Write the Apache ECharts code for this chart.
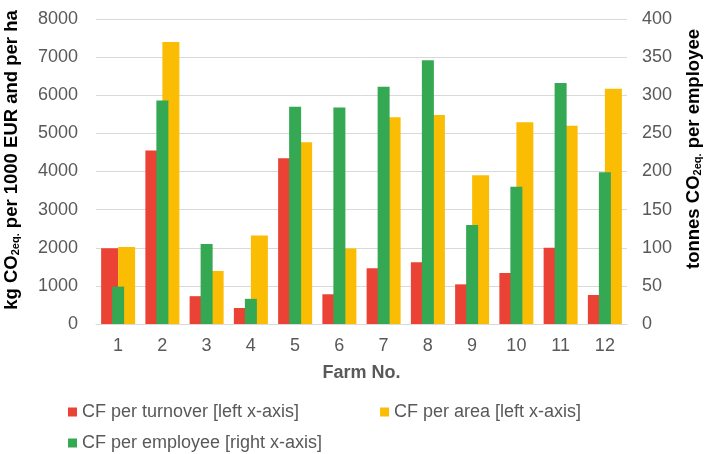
<!DOCTYPE html>
<html>
<head>
<meta charset="utf-8">
<script src="https://cdn.jsdelivr.net/npm/echarts@6/dist/echarts.min.js"></script>
<style>
html,body{margin:0;padding:0;background:#fff;}
#c{width:709px;height:454px;}
</style>
</head>
<body>
<div id="c"></div>
<script>
const farms = ['1','2','3','4','5','6','7','8','9','10','11','12'];
const cfTurnover = [1990, 4550, 730, 420, 4350, 780, 1460, 1620, 1040, 1340, 2000, 760];
const cfArea = [2020, 7400, 1390, 2320, 4770, 1980, 5420, 5480, 3900, 5290, 5200, 6170];
const cfEmployee = [49, 293, 105, 33, 285, 284, 311, 346, 130, 180, 316, 199];
const leftTicks = {min: 0, max: 8000, interval: 1000};
const rightTicks = {min: 0, max: 400, interval: 50};

const FONT = '"Liberation Sans", Arial, sans-serif';
const GRAY = '#595959';
const RED = '#EA4335', YELLOW = '#FBBC04', GREEN = '#34A853';

const chart = echarts.init(document.getElementById('c'), null, {renderer: 'canvas'});
const nameRich = {
  a: {fontFamily: FONT, fontSize: 18.5, fontWeight: 'bold', color: GRAY},
  s: {fontFamily: FONT, fontSize: 11, fontWeight: 'bold', color: GRAY, verticalAlign: 'bottom', padding: [8, 0, 0, 0]}
};
const plain = v => String(v);
chart.setOption({
  animation: false,
  textStyle: {fontFamily: FONT},
  grid: {left: 96, right: 82, top: 19, bottom: 130, containLabel: false},
  legend: [
    {
      data: ['CF per turnover [left x-axis]', 'CF per area [left x-axis]'],
      left: 63, top: 398, icon: 'rect', itemWidth: 9, itemHeight: 9, itemGap: 81,
      textStyle: {fontFamily: FONT, fontSize: 18, color: GRAY}
    },
    {
      data: ['CF per employee [right x-axis]'],
      left: 63, top: 429, icon: 'rect', itemWidth: 9, itemHeight: 9,
      textStyle: {fontFamily: FONT, fontSize: 18, color: GRAY}
    }
  ],
  xAxis: [
    {
      type: 'category', data: farms,
      name: 'Farm No.', nameLocation: 'middle', nameGap: 40,
      nameTextStyle: {fontFamily: FONT, fontSize: 18, fontWeight: 'bold', color: GRAY},
      axisLine: {lineStyle: {color: '#D9D9D9', width: 1}},
      axisTick: {show: false},
      axisLabel: {margin: 13, fontFamily: FONT, fontSize: 18, color: GRAY}
    },
    {
      type: 'category', data: farms, show: false, position: 'bottom'
    }
  ],
  yAxis: [
    {
      type: 'value', min: leftTicks.min, max: leftTicks.max, interval: leftTicks.interval,
      axisLine: {show: false}, axisTick: {show: false},
      axisLabel: {margin: 18, fontFamily: FONT, fontSize: 18, color: GRAY, formatter: plain},
      splitLine: {lineStyle: {color: '#D9D9D9', width: 1}}
    },
    {
      type: 'value', min: rightTicks.min, max: rightTicks.max, interval: rightTicks.interval,
      position: 'right',
      axisLine: {show: false}, axisTick: {show: false},
      axisLabel: {margin: 15, fontFamily: FONT, fontSize: 18, color: GRAY, formatter: plain},
      splitLine: {show: false}
    }
  ],
  graphic: [
    {
      type: 'text', x: 12, y: 160, rotation: Math.PI / 2,
      style: {
        text: '{a|kg CO}{s|2eq.}{a| per 1000 EUR and per ha}',
        rich: nameRich, align: 'center', verticalAlign: 'middle'
      }
    },
    {
      type: 'text', x: 694, y: 149, rotation: Math.PI / 2,
      style: {
        text: '{a|tonnes CO}{s|2eq.}{a| per employee}',
        rich: nameRich, align: 'center', verticalAlign: 'middle'
      }
    }
  ],
  series: [
    {
      name: 'CF per turnover [left x-axis]', type: 'bar', data: cfTurnover,
      xAxisIndex: 0, yAxisIndex: 0, barWidth: 17, barGap: '0%',
      itemStyle: {color: RED}, z: 2
    },
    {
      name: 'CF per area [left x-axis]', type: 'bar', data: cfArea,
      xAxisIndex: 0, yAxisIndex: 0, barWidth: 17, barGap: '0%',
      itemStyle: {color: YELLOW}, z: 2
    },
    {
      name: 'CF per employee [right x-axis]', type: 'bar', data: cfEmployee,
      xAxisIndex: 1, yAxisIndex: 1, barWidth: 12,
      itemStyle: {color: GREEN}, z: 3
    }
  ]
});
</script>
</body>
</html>
